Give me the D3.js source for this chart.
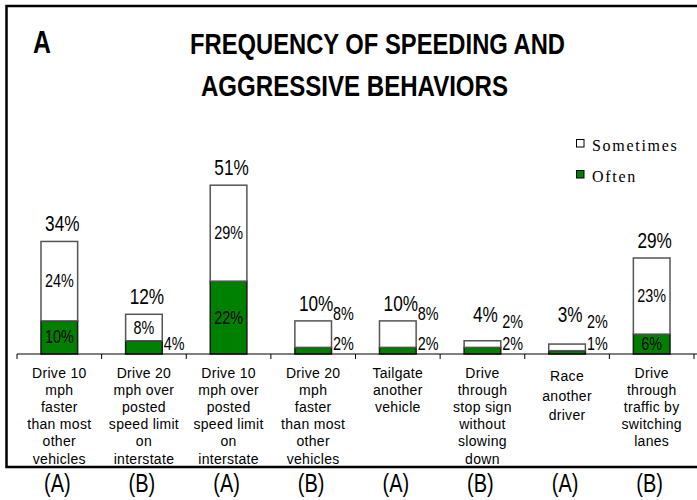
<!DOCTYPE html>
<html>
<head>
<meta charset="utf-8">
<script src="https://cdn.jsdelivr.net/npm/d3@7"></script>
<style>
  html, body { margin: 0; padding: 0; background: #fff; }
  svg { display: block; }
</style>
</head>
<body>
<svg id="chart" width="697" height="500"></svg>
<script>
// ---- data ----
const categories = [
  ["Drive 10", "mph", "faster", "than most", "other", "vehicles"],
  ["Drive 20", "mph over", "posted", "speed limit", "on", "interstate"],
  ["Drive 10", "mph over", "posted", "speed limit", "on", "interstate"],
  ["Drive 20", "mph", "faster", "than most", "other", "vehicles"],
  ["Tailgate", "another", "vehicle"],
  ["Drive", "through", "stop sign", "without", "slowing", "down"],
  ["Race", "another", "driver"],
  ["Drive", "through", "traffic by", "switching", "lanes"]
];
const groups = ["(A)", "(B)", "(A)", "(B)", "(A)", "(B)", "(A)", "(B)"];
const often = [10, 4, 22, 2, 2, 2, 1, 6];
const sometimes = [24, 8, 29, 8, 8, 2, 2, 23];
const totals = [34, 12, 51, 10, 10, 4, 3, 29];
const seriesNames = ["Sometimes", "Often"];
const titleLines = ["FREQUENCY OF SPEEDING AND", "AGGRESSIVE BEHAVIORS"];
const panelLetter = "A";

// ---- drawing ----
const svg = d3.select("#chart");
const SANS = "'Liberation Sans', Arial, sans-serif";
const SERIF = "'Liberation Serif', 'Times New Roman', serif";
const SX = 0.8; // horizontal squeeze to imitate a narrow face

function narrow(parent, txt, px, py, size, anchor, bold) {
  const g = parent.append("g").attr("transform", `translate(${px},${py}) scale(${SX},1)`);
  return g.append("text").text(txt)
    .attr("x", 0).attr("y", 0)
    .attr("text-anchor", anchor || "start")
    .attr("font-family", SANS)
    .attr("font-weight", bold ? "bold" : "normal")
    .attr("font-size", size).attr("fill", "#000");
}

// frame
svg.append("rect")
  .attr("x", 6.5).attr("y", 6).attr("width", 700).attr("height", 461)
  .attr("fill", "none").attr("stroke", "#000").attr("stroke-width", 2.5);

// titles
narrow(svg, panelLetter, 33, 53, 31, "start", true);
const titleX = [190, 201], titleY = [53.5, 95.5], titleW = [375, 307];
titleLines.forEach((t, i) => {
  svg.append("text").text(t)
    .attr("x", titleX[i]).attr("y", titleY[i])
    .attr("textLength", titleW[i]).attr("lengthAdjust", "spacingAndGlyphs")
    .attr("font-family", SANS).attr("font-weight", "bold").attr("font-size", 30);
});

// scales
const idx = d3.range(categories.length);
const x = d3.scaleBand().domain(idx).range([17, 694]).paddingInner(0.567).paddingOuter(0.2835);
const y = d3.scaleLinear().domain([0, 60]).range([354, 155.4]);
const y0 = y(0);
const band = x.step();

// stacked data
const rows = idx.map(i => ({ i, Often: often[i], Sometimes: sometimes[i] }));
const stack = d3.stack().keys(["Often", "Sometimes"])(rows);
const fills = { Often: "#008000", Sometimes: "#ffffff" };
const strokes = { Often: "#1a1a1a", Sometimes: "#555" };

stack.forEach(layer => {
  svg.append("g").selectAll("rect").data(layer).join("rect")
    .attr("x", d => x(d.data.i))
    .attr("y", d => y(d[1]))
    .attr("width", x.bandwidth())
    .attr("height", d => y(d[0]) - y(d[1]))
    .attr("fill", fills[layer.key])
    .attr("stroke", strokes[layer.key])
    .attr("stroke-width", 1.5);
});

// axis
const axisG = svg.append("g");
axisG.append("line").attr("x1", 17).attr("x2", 697).attr("y1", y0).attr("y2", y0)
  .attr("stroke", "#000").attr("stroke-width", 1);
const tickPos = idx.map(i => x(i) - (band - x.bandwidth()) / 2).concat([694]);
axisG.selectAll("line.tk").data(tickPos).join("line").attr("class", "tk")
  .attr("x1", d => d).attr("x2", d => d).attr("y1", y0).attr("y2", y0 + 5)
  .attr("stroke", "#000").attr("stroke-width", 1);

// segment value labels: inside when there is room, otherwise to the right of the bar
const labG = svg.append("g");
stack.forEach(layer => {
  layer.forEach(d => {
    const i = d.data.i;
    const v = d.data[layer.key];
    const top = y(d[1]), bot = y(d[0]);
    const h = bot - top;
    const bx = x(i), bw = x.bandwidth();
    const inside = h >= 15 && totals[i] > 10;
    if (inside) {
      narrow(labG, v + "%", bx + bw / 2, (top + bot) / 2 + 6, 18, "middle");
    } else {
      const by = layer.key === "Often" ? y0 - 4 : Math.min(y(totals[i]) - 1, 328);
      narrow(labG, v + "%", bx + bw + 1.5, by, 18, "start");
    }
  });
});

// total labels
idx.forEach(i => {
  narrow(labG, totals[i] + "%", x(i) + x.bandwidth() / 2 + 3,
    Math.min(y(totals[i]) - 10, 322), 21.5, "middle");
});

// category labels
const catG = svg.append("g").attr("font-family", SANS).attr("font-size", 14).attr("letter-spacing", 0.3);
categories.forEach((lines, i) => {
  const last = i === 6;
  const start = last ? 381 : 377.5;
  const step = last ? 19.5 : 17.2;
  const t = catG.append("text").attr("text-anchor", "middle");
  lines.forEach((ln, k) => {
    t.append("tspan").text(ln)
      .attr("x", x(i) + x.bandwidth() / 2)
      .attr("y", start + k * step);
  });
});

// group labels (A)/(B)
const grpG = svg.append("g");
idx.forEach(i => {
  narrow(grpG, groups[i], x(i) + x.bandwidth() / 2 - 2, 492, 25, "middle");
});

// legend
const legY = [139, 170];
const legKeys = ["Sometimes", "Often"];
const leg = svg.append("g");
legKeys.forEach((k, j) => {
  leg.append("rect").attr("x", 576.5).attr("y", legY[j] + 0.5).attr("width", 7.5).attr("height", 7.5)
    .attr("fill", fills[k]).attr("stroke", "#000").attr("stroke-width", 1);
  leg.append("text").text(seriesNames[j])
    .attr("x", 592).attr("y", legY[j] + 12)
    .attr("font-family", SERIF).attr("font-size", 16).attr("letter-spacing", 1.7);
});
</script>
</body>
</html>
